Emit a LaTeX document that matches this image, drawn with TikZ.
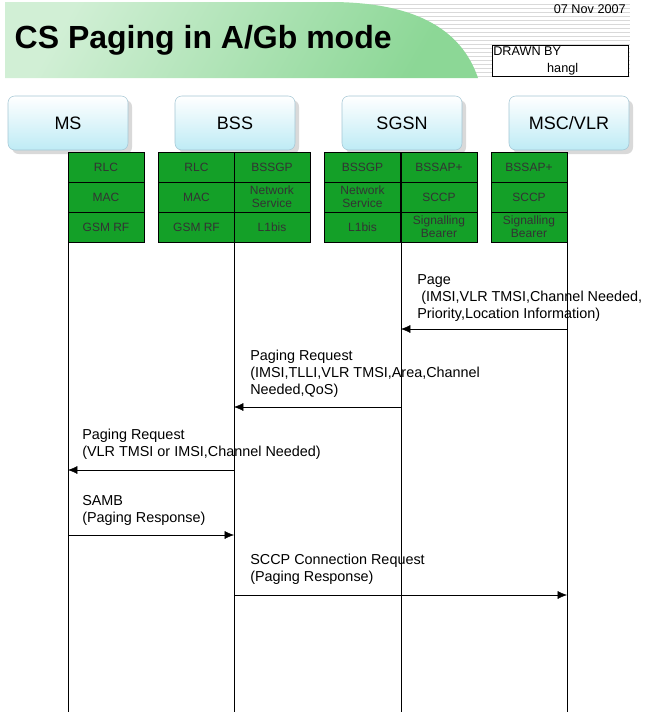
\documentclass[tikz,border=0pt]{standalone}
\usepackage{fontspec}
\setmainfont{Liberation Sans}
\usetikzlibrary{shadows, arrows.meta}
\definecolor{stackgreen}{RGB}{20,160,40}
\definecolor{bandgreen}{RGB}{140,215,150}
\definecolor{entcyan}{RGB}{190,235,245}

\tikzset{
  entity/.style={draw=cyan!40!gray!60, rounded corners=5pt, top color=white, bottom color=entcyan,
    minimum width=90pt, minimum height=40.5pt, font=\fontsize{13.5}{15}\selectfont,
    drop shadow={opacity=0.3, shadow xshift=3pt, shadow yshift=-3pt}},
  layer/.style={draw=black, fill=stackgreen, minimum width=57pt, minimum height=22.5pt,
    inner sep=0pt, align=center, font=\fontsize{9}{9.5}\selectfont, text=black!80},
  life/.style={thin},
  msg/.style={-{Latex[length=7pt,width=6pt]}, thin},
  lbl/.style={anchor=north west, align=left, inner sep=0pt, font=\fontsize{10.8}{12.7}\selectfont}
}

\begin{document}
\begin{tikzpicture}[x=0.75pt, y=-0.75pt]
	\useasboundingbox (0,0) rectangle (648,726);
	% header
	\foreach \y in {4,8,...,76} \draw[gray!30, very thin] (300,\y) -- (630,\y);
	\shade[left color=bandgreen!40, right color=bandgreen, shading angle=60]
	  (5,2) -- (330,2) .. controls (430,2) and (465,40) .. (478,78) -- (5,78) -- cycle;
	\node[anchor=west, font=\bfseries\fontsize{24}{27}\selectfont] (title) at (10,40) {CS Paging in A/Gb mode};
	\node[anchor=north east, inner sep=0pt, font=\fontsize{9.5}{11}\selectfont] (date) at (626,4) {07 Nov 2007};
	\node[draw, fill=white, minimum width=102pt, minimum height=23pt, inner sep=0pt] (drawn) at (560,61) {};
	\node[anchor=north west, inner sep=1pt, font=\fontsize{9.5}{11}\selectfont] at (drawn.north west) {DRAWN BY};
	\node[anchor=south, inner sep=1pt, font=\fontsize{9.5}{11}\selectfont] at ([xshift=2pt]drawn.south) {hangl};
	% entities
	\node[entity] (ms) at (68,123) {MS};
	\node[entity] (bss) at (235,123) {BSS};
	\node[entity] (sgsn) at (402,123) {SGSN};
	\node[entity] (msc) at (569,123) {MSC/VLR};
	% protocol stacks
	\foreach \n/\x/\a/\b/\c in {ms1/106/RLC/MAC/GSM RF, bss1/196.5/RLC/MAC/GSM RF,
	    bss2/272/BSSGP/Network\\Service/L1bis, sgsn1/362.5/BSSGP/Network\\Service/L1bis,
	    sgsn2/439/BSSAP+/SCCP/Signalling\\Bearer, msc1/529/BSSAP+/SCCP/Signalling\\Bearer} {
	  \node[layer] (\n a) at (\x,167) {\a};
	  \node[layer] (\n b) at (\x,197) {\b};
	  \node[layer] (\n c) at (\x,227) {\c};
	}
	% lifelines
	\foreach \n/\x in {ms/68, bss/234, sgsn/401, msc/567} {
	  \coordinate (\n t) at (\x,242);
	  \coordinate (\n e) at (\x,712);
	  \draw[life] (\n t) -- (\n e);
	}
	% messages
	\coordinate (m1a) at (567,329); \coordinate (m1b) at (401,329);
	\draw[msg] (m1a) -- (m1b);
	\node[lbl] at (417,274) {Page\\ \ (IMSI,VLR TMSI,Channel Needed,\\Priority,Location Information)};
	\coordinate (m2a) at (401,407); \coordinate (m2b) at (234,407);
	\draw[msg] (m2a) -- (m2b);
	\node[lbl] at (250,350) {Paging Request\\(IMSI,TLLI,VLR TMSI,Area,Channel\\Needed,QoS)};
	\coordinate (m3a) at (234,470); \coordinate (m3b) at (68,470);
	\draw[msg] (m3a) -- (m3b);
	\node[lbl] at (82,429) {Paging Request\\(VLR TMSI or IMSI,Channel Needed)};
	\coordinate (m4a) at (68,535); \coordinate (m4b) at (234,535);
	\draw[msg] (m4a) -- (m4b);
	\node[lbl] at (82,495) {SAMB\\(Paging Response)};
	\coordinate (m5a) at (234,595); \coordinate (m5b) at (567,595);
	\draw[msg] (m5a) -- (m5b);
	\node[lbl] at (250,554) {SCCP Connection Request\\(Paging Response)};
\end{tikzpicture}
\end{document}
